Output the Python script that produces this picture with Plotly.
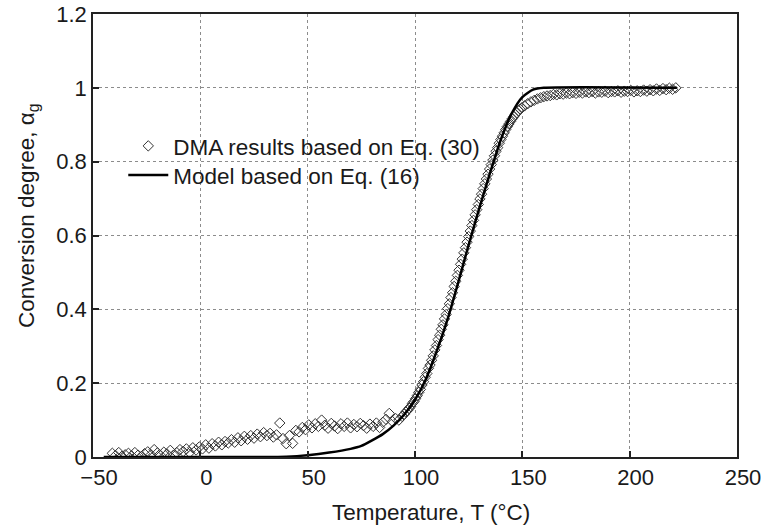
import plotly.graph_objects as go

# ---- DMA results (Eq. 30) ----
dma_T = [
    -41, -39.5, -38, -36.5, -35, -33.5, -32, -30.5, -29, -27.5, -26, -24.5, -23, -21.5, -20,
    -18.5, -17, -15.5, -14, -12.5, -11, -9.5, -8, -6.5, -5, -3.5, -2, -0.5, 1, 2.5, 4, 5.5,
    7, 8.5, 10, 11.5, 13, 14.5, 16, 17.5, 19, 20.5, 22, 23.5, 25, 26.5, 28, 29.5, 31, 32.5,
    34, 35.5, 37, 38.5, 40, 41.5, 43, 44.5, 46, 47.5, 49, 50.5, 52, 53.5, 55, 56.5, 58, 59.5,
    61, 62.5, 64, 65.5, 67, 68.5, 70, 71.5, 73, 74.5, 76, 77.5, 79, 80.5, 82, 83.5, 85, 86.5,
    88, 89.5, 91, 92.5, 94,
    95, 95.75, 96.5, 97.25, 98, 98.75, 99.5, 100.25, 101, 101.75, 102.5, 103.25, 104, 104.75,
    105.5, 106.25, 107, 107.75, 108.5, 109.25, 110, 110.75, 111.5, 112.25, 113, 113.75, 114.5,
    115.25, 116, 116.75, 117.5, 118.25, 119, 119.75, 120.5, 121.25, 122, 122.75, 123.5, 124.25,
    125, 125.75, 126.5, 127.25, 128, 128.75, 129.5, 130.25, 131, 131.75, 132.5, 133.25, 134,
    134.75, 135.5, 136.25, 137, 137.75, 138.5, 139.25, 140, 140.75, 141.5, 142.25, 143, 143.75,
    144.5, 145.25, 146, 146.75, 147.5, 148.25, 149, 149.75,
    151, 152.5, 154, 155.5, 157, 158.5, 160, 161.5, 163, 164.5, 166, 167.5, 169, 170.5, 172,
    173.5, 175, 176.5, 178, 179.5, 181, 182.5, 184, 185.5, 187, 188.5, 190, 191.5, 193, 194.5,
    196, 197.5, 199, 200.5, 202, 203.5, 205, 206.5, 208, 209.5, 211, 212.5, 214, 215.5, 217,
    218.5, 220, 221.5,
]
dma_alpha = [
    0.010, 0.004, 0.012, 0.002, 0.006, 0.010, 0.003, 0.012, 0.005, 0.001, 0.009, 0.014, 0.006, 0.020, 0.011,
    0.004, 0.013, 0.008, 0.018, 0.005, 0.012, 0.020, 0.015, 0.022, 0.012, 0.025, 0.019, 0.027, 0.022, 0.033, 0.024, 0.036,
    0.030, 0.040, 0.033, 0.042, 0.038, 0.047, 0.040, 0.052, 0.044, 0.056, 0.048, 0.058, 0.051, 0.062, 0.055, 0.066, 0.058, 0.064,
    0.054, 0.060, 0.092, 0.050, 0.036, 0.058, 0.037, 0.072, 0.068, 0.080, 0.074, 0.087, 0.079, 0.090, 0.083, 0.100, 0.086, 0.078,
    0.091, 0.084, 0.077, 0.090, 0.083, 0.092, 0.079, 0.088, 0.082, 0.091, 0.085, 0.078, 0.089, 0.083, 0.092, 0.080, 0.094, 0.102,
    0.118, 0.096, 0.104, 0.100, 0.110,
    0.116, 0.122, 0.126, 0.132, 0.137, 0.145, 0.150, 0.158, 0.166, 0.175, 0.183, 0.195, 0.204, 0.216,
    0.226, 0.240, 0.249, 0.262, 0.274, 0.290, 0.302, 0.318, 0.330, 0.346, 0.358, 0.374, 0.386,
    0.402, 0.415, 0.432, 0.445, 0.462, 0.476, 0.492, 0.506, 0.522, 0.536, 0.553, 0.567, 0.582,
    0.597, 0.612, 0.627, 0.641, 0.656, 0.670, 0.684, 0.699, 0.712, 0.727, 0.740, 0.753, 0.766,
    0.780, 0.792, 0.804, 0.816, 0.828, 0.838, 0.850, 0.860, 0.869, 0.878, 0.887, 0.895, 0.902,
    0.909, 0.916, 0.922, 0.928, 0.933, 0.938, 0.942, 0.946,
    0.951, 0.957, 0.962, 0.966, 0.970, 0.973, 0.976, 0.978, 0.979, 0.982, 0.981, 0.984, 0.983, 0.986, 0.984,
    0.987, 0.985, 0.988, 0.986, 0.989, 0.987, 0.990, 0.986, 0.989, 0.988, 0.991, 0.987, 0.990, 0.989, 0.992,
    0.988, 0.991, 0.990, 0.993, 0.989, 0.992, 0.990, 0.994, 0.991, 0.995, 0.992, 0.997, 0.993, 0.998, 0.995,
    0.999, 0.996, 1.000,
]

# ---- Model (Eq. 16) ----
model_T = [-45, 30, 40, 50, 60, 70, 75, 80, 85, 90, 95, 100, 105, 110, 115, 120, 125, 130,
           135, 140, 145, 150, 155, 160, 222]
model_alpha = [0.0, 0.0, 0.001, 0.005, 0.012, 0.022, 0.030, 0.045, 0.062, 0.085, 0.115, 0.155,
               0.210, 0.285, 0.370, 0.470, 0.575, 0.675, 0.770, 0.860, 0.930, 0.975, 0.995,
               1.0, 1.0]

x_ticks = [-50, 0, 50, 100, 150, 200, 250]
y_ticks = [0, 0.2, 0.4, 0.6, 0.8, 1.0, 1.2]
y_ticktext = ["0", "0.2", "0.4", "0.6", "0.8", "1", "1.2"]

FONT = "Liberation Sans, Arial, sans-serif"
TXT = "#1a1a1a"
FS = 22.5

fig = go.Figure()
fig.add_trace(go.Scatter(
    x=dma_T, y=dma_alpha, mode="markers", name="DMA results based on Eq. (30)",
    marker=dict(symbol="diamond-open", size=8, color="#333333", line=dict(width=1, color="#333333")),
    legend="legend",
))
fig.add_trace(go.Scatter(
    x=model_T, y=model_alpha, mode="lines", name="Model based on Eq. (16)",
    line=dict(color="black", width=2.5, shape="spline", smoothing=0.6),
    legend="legend2",
))

axis_common = dict(
    showline=True, linecolor="#222222", linewidth=1.5, mirror=True,
    ticks="inside", ticklen=6, tickcolor="#222222", tickwidth=1.5,
    showgrid=True, gridcolor="#8c8c8c", griddash="dot", gridwidth=1,
    zeroline=False, automargin=False,
    tickfont=dict(family=FONT, size=22, color=TXT),
)

fig.update_xaxes(range=[-50, 250], tickvals=x_ticks, ticklabelshift=6, **axis_common)
fig.update_yaxes(range=[0, 1.2], tickvals=y_ticks, ticktext=y_ticktext, **axis_common)

leg_common = dict(
    xanchor="left", yanchor="top", bgcolor="rgba(0,0,0,0)", borderwidth=0,
    font=dict(family=FONT, size=FS, color=TXT), itemwidth=40,
)

fig.update_layout(
    width=765, height=528,
    margin=dict(l=93, r=28, t=14, b=71, autoexpand=False),
    paper_bgcolor="white", plot_bgcolor="white",
    font=dict(family=FONT, size=FS, color=TXT),
    showlegend=True,
    legend=dict(x=0.047, y=0.75, **leg_common),
    legend2=dict(x=0.047, y=0.684, **leg_common),
    annotations=[
        dict(text="Temperature, T (°C)", xref="paper", yref="paper", x=0.525, y=-0.126,
             xanchor="center", yanchor="middle", showarrow=False,
             font=dict(family=FONT, size=FS, color=TXT)),
        dict(text="Conversion degree, α<sub>g</sub>", xref="paper", yref="paper", x=-0.101, y=0.544,
             xanchor="center", yanchor="middle", textangle=-90, showarrow=False,
             font=dict(family=FONT, size=FS, color=TXT)),
    ],
)

fig.write_html("out.html")
